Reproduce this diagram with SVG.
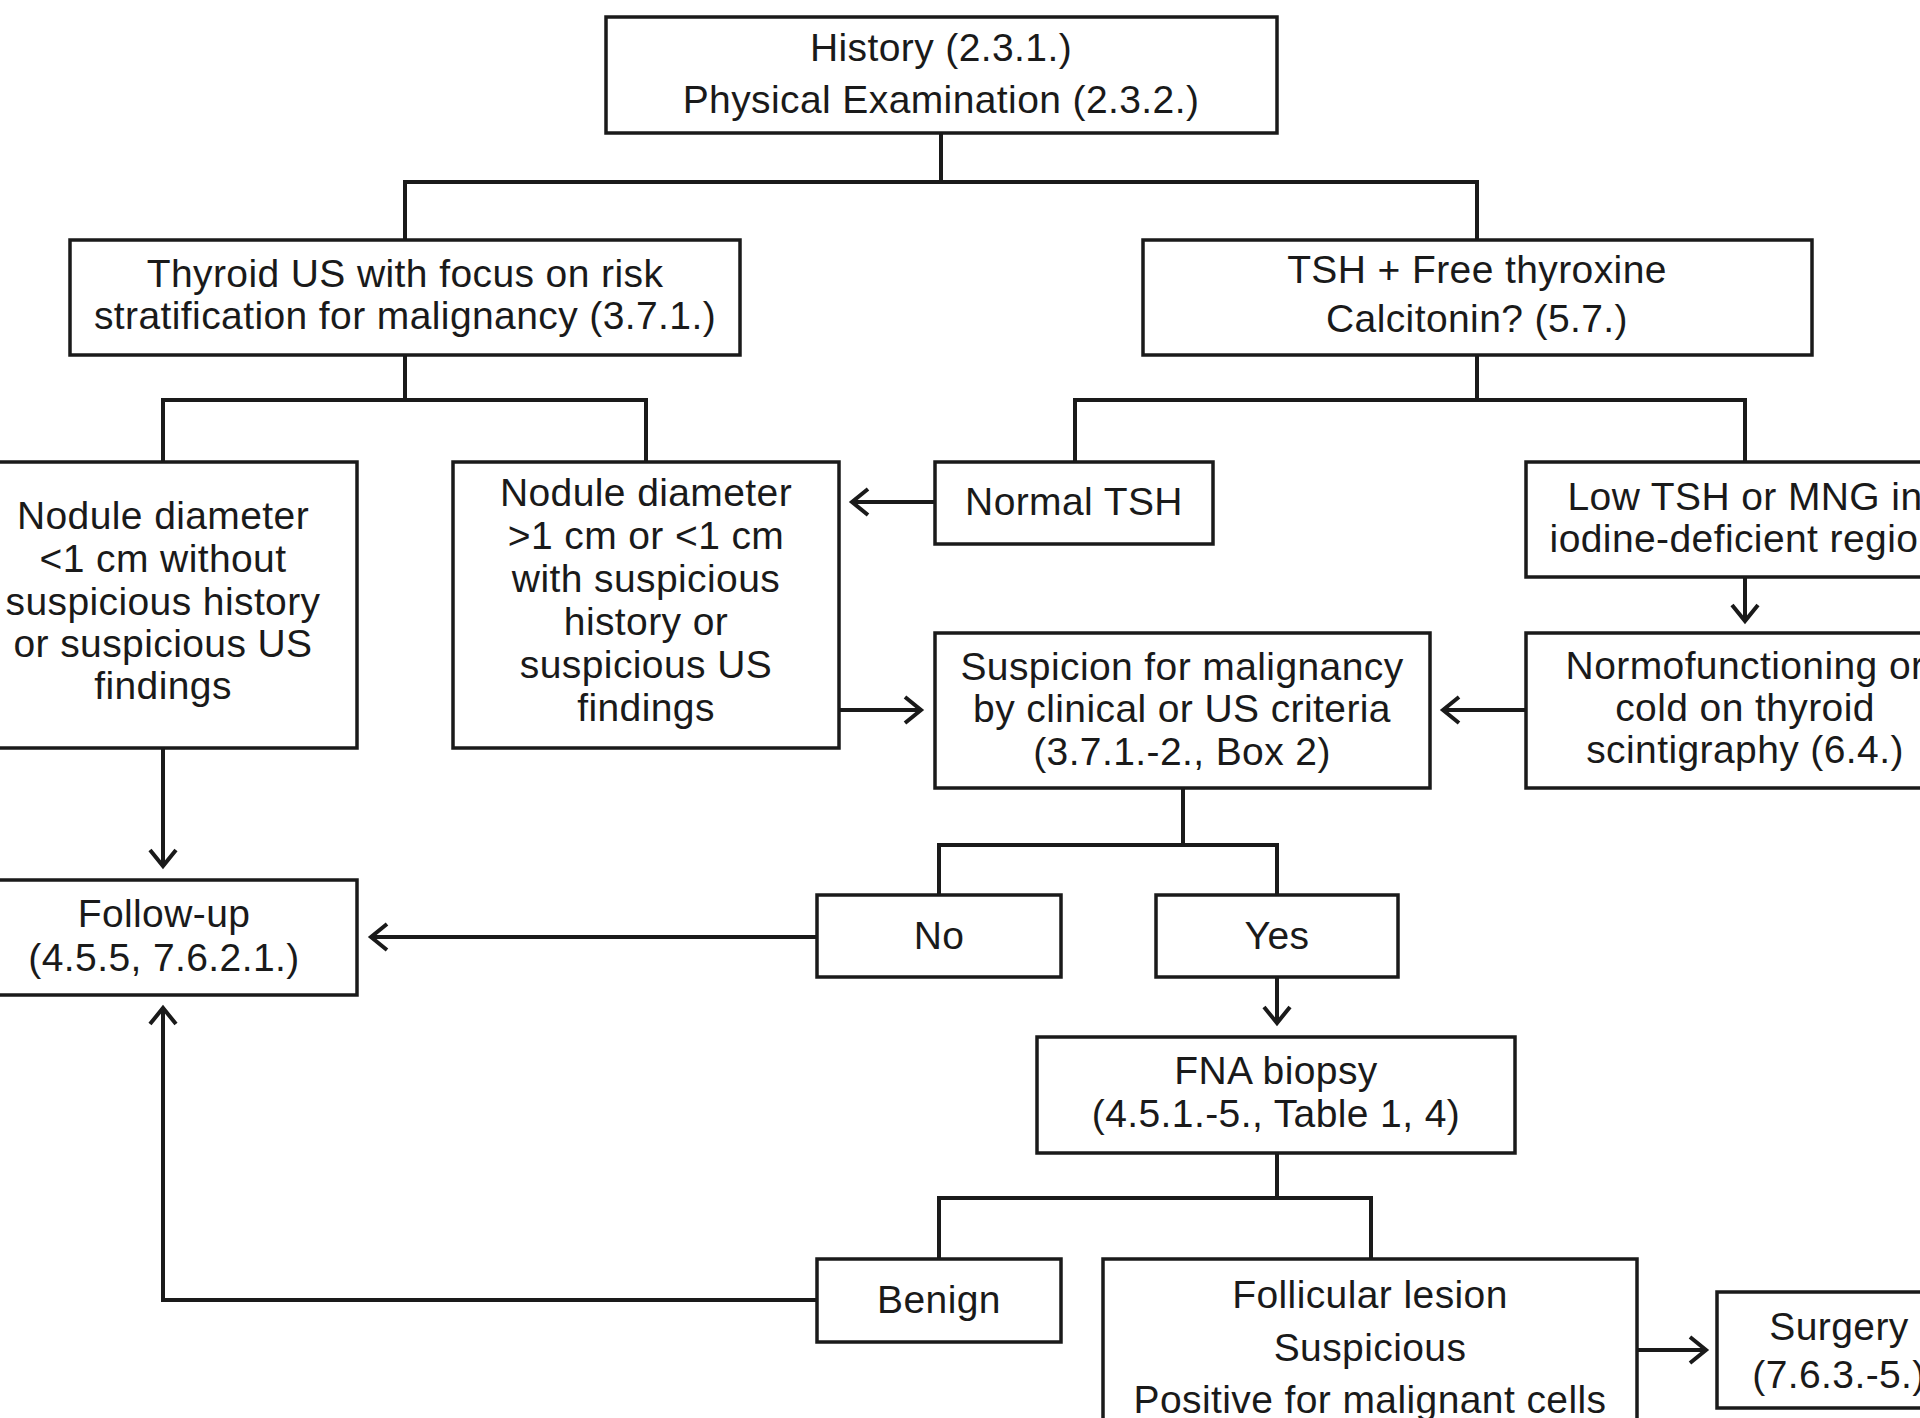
<svg xmlns="http://www.w3.org/2000/svg" width="1920" height="1418" viewBox="0 0 1920 1418">
<style>
.box{fill:#ffffff;stroke:#1a1a1a;stroke-width:3.5}
.t{font-family:"Liberation Sans",Arial,Helvetica,sans-serif;font-size:39px;letter-spacing:0.4px;fill:#1a1a1a;text-anchor:middle}
.c{fill:none;stroke:#1a1a1a;stroke-width:4}
.a{fill:none;stroke:#1a1a1a;stroke-width:4;marker-end:url(#arr)}
</style>
<defs>
<marker id="arr" markerUnits="userSpaceOnUse" markerWidth="40" markerHeight="40" viewBox="-20 -20 40 40" refX="0" refY="0" orient="auto">
<path d="M-16,-13 L0,0 L-16,13" fill="none" stroke="#1a1a1a" stroke-width="4"/>
</marker>
</defs>
<rect width="1920" height="1418" fill="#ffffff"/>
<g id="connectors">
<path class="c" d="M941,133 V182 M405,240 V182 H1477 V240"/>
<path class="c" d="M405,355 V400 M163,462 V400 H646 V462"/>
<path class="c" d="M1477,355 V400 M1075,462 V400 H1745 V462"/>
<path class="a" d="M935,502 H852"/>
<path class="a" d="M839,710 H921"/>
<path class="a" d="M1526,710 H1443"/>
<path class="a" d="M1745,577 V621"/>
<path class="a" d="M163,748 V866"/>
<path class="c" d="M1183,788 V845 M939,895 V845 H1277 V895"/>
<path class="a" d="M817,937 H371"/>
<path class="a" d="M1277,977 V1023"/>
<path class="c" d="M1277,1153 V1198 M939,1259 V1198 H1371 V1259"/>
<path class="a" d="M817,1300 H163 V1008"/>
<path class="a" d="M1637,1350 H1706"/>
</g>
<g id="history">
<rect class="box" x="606" y="17" width="671" height="116"/>
<text class="t" x="941" y="61">History (2.3.1.)</text>
<text class="t" x="941" y="113">Physical Examination (2.3.2.)</text>
</g>
<g id="thyroid-us">
<rect class="box" x="70" y="240" width="670" height="115"/>
<text class="t" x="405" y="287">Thyroid US with focus on risk</text>
<text class="t" x="405" y="329">stratification for malignancy (3.7.1.)</text>
</g>
<g id="tsh">
<rect class="box" x="1143" y="240" width="669" height="115"/>
<text class="t" x="1477" y="283">TSH + Free thyroxine</text>
<text class="t" x="1477" y="332">Calcitonin? (5.7.)</text>
</g>
<g id="nodule-small">
<rect class="box" x="-40" y="462" width="397" height="286"/>
<text class="t" x="163" y="529">Nodule diameter</text>
<text class="t" x="163" y="572">&lt;1 cm without</text>
<text class="t" x="163" y="615">suspicious history</text>
<text class="t" x="163" y="657">or suspicious US</text>
<text class="t" x="163" y="699">findings</text>
</g>
<g id="nodule-large">
<rect class="box" x="453" y="462" width="386" height="286"/>
<text class="t" x="646" y="506">Nodule diameter</text>
<text class="t" x="646" y="549">&gt;1 cm or &lt;1 cm</text>
<text class="t" x="646" y="592">with suspicious</text>
<text class="t" x="646" y="635">history or</text>
<text class="t" x="646" y="678">suspicious US</text>
<text class="t" x="646" y="721">findings</text>
</g>
<g id="normal-tsh">
<rect class="box" x="935" y="462" width="278" height="82"/>
<text class="t" x="1074" y="515">Normal TSH</text>
</g>
<g id="low-tsh">
<rect class="box" x="1526" y="462" width="440" height="115"/>
<text class="t" x="1745" y="510">Low TSH or MNG in</text>
<text class="t" x="1745" y="552">iodine-deficient region</text>
</g>
<g id="suspicion">
<rect class="box" x="935" y="633" width="495" height="155"/>
<text class="t" x="1182" y="680">Suspicion for malignancy</text>
<text class="t" x="1182" y="722">by clinical or US criteria</text>
<text class="t" x="1182" y="765">(3.7.1.-2., Box 2)</text>
</g>
<g id="normofunctioning">
<rect class="box" x="1526" y="633" width="440" height="155"/>
<text class="t" x="1745" y="679">Normofunctioning or</text>
<text class="t" x="1745" y="721">cold on thyroid</text>
<text class="t" x="1745" y="763">scintigraphy (6.4.)</text>
</g>
<g id="follow-up">
<rect class="box" x="-40" y="880" width="397" height="115"/>
<text class="t" x="164" y="927">Follow-up</text>
<text class="t" x="164" y="971">(4.5.5, 7.6.2.1.)</text>
</g>
<g id="no">
<rect class="box" x="817" y="895" width="244" height="82"/>
<text class="t" x="939" y="949">No</text>
</g>
<g id="yes">
<rect class="box" x="1156" y="895" width="242" height="82"/>
<text class="t" x="1277" y="949">Yes</text>
</g>
<g id="fna">
<rect class="box" x="1037" y="1037" width="478" height="116"/>
<text class="t" x="1276" y="1084">FNA biopsy</text>
<text class="t" x="1276" y="1127">(4.5.1.-5., Table 1, 4)</text>
</g>
<g id="benign">
<rect class="box" x="817" y="1259" width="244" height="83"/>
<text class="t" x="939" y="1313">Benign</text>
</g>
<g id="follicular">
<rect class="box" x="1103" y="1259" width="534" height="200"/>
<text class="t" x="1370" y="1308">Follicular lesion</text>
<text class="t" x="1370" y="1361">Suspicious</text>
<text class="t" x="1370" y="1413">Positive for malignant cells</text>
</g>
<g id="surgery">
<rect class="box" x="1717" y="1292" width="245" height="116"/>
<text class="t" x="1839" y="1340">Surgery</text>
<text class="t" x="1839" y="1388">(7.6.3.-5.)</text>
</g>
</svg>
